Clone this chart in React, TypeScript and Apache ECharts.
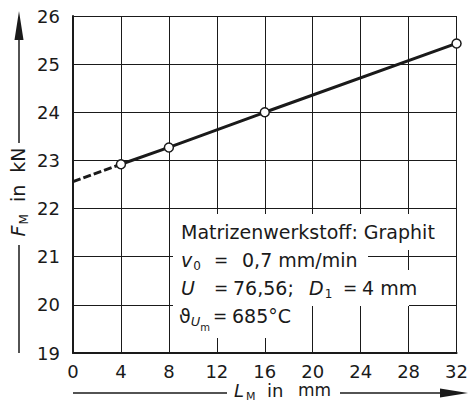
import React, { useEffect, useRef } from 'react';
import * as echarts from 'echarts';

// Measured points (L_M in mm, F_M in kN)
const lengths = [4, 8, 16, 32];
const forces = [22.92, 23.27, 24.0, 25.43];
// Dashed extrapolation towards L_M = 0
const extLengths = [0, 4];
const extForces = [22.56, 22.92];

const xMin = 0;
const xMax = 32;
const xStep = 4;
const yMin = 19;
const yMax = 26;
const yStep = 1;

const infoTitle = 'Matrizenwerkstoff: Graphit';
const infoV0 = '0,7 mm/min';
const infoU = '76,56;';
const infoD1 = '4 mm';
const infoTheta = '685°C';

const INK = '#1a1a1a';
const FONT = 'DejaVu Sans';

export default function App() {
  const ref = useRef<HTMLDivElement>(null);

  useEffect(() => {
    if (!ref.current) return;
    const chart = echarts.init(ref.current, undefined, { renderer: 'svg' });

    const richBase = {
      n: { fontSize: 19, fontFamily: FONT, color: INK },
      i: { fontSize: 19, fontFamily: FONT, fontStyle: 'italic', color: INK },
      s: { fontSize: 12, fontFamily: FONT, color: INK, padding: [11, 0, 0, 1] },
      su: { fontSize: 13, fontFamily: FONT, fontStyle: 'italic', color: INK, padding: [11, 0, 0, 0] },
      ss: { fontSize: 10, fontFamily: FONT, color: INK, padding: [23, 0, 0, 0] },
    };

    const txt = (x: number, y: number, text: string, extra: any = {}) => ({
      type: 'text',
      z: 10,
      x,
      y,
      style: {
        text,
        rich: richBase,
        fill: INK,
        fontSize: 19,
        fontFamily: FONT,
        align: 'left',
        verticalAlign: 'middle',
        ...extra,
      },
    });

    const plain = (x: number, y: number, text: string, size: number, italic = false) => ({
      type: 'text',
      z: 10,
      x,
      y,
      style: {
        text,
        fill: INK,
        fontSize: size,
        fontFamily: FONT,
        fontStyle: italic ? 'italic' : 'normal',
        align: 'left',
        verticalAlign: 'middle',
      },
    });

    const mask = (x: number, y: number, w: number, h: number) => ({
      type: 'rect',
      z: 5,
      shape: { x, y, width: w, height: h },
      style: { fill: '#ffffff' },
    });

    const data = lengths.map((l, k) => [l, forces[k]]);
    const ext = extLengths.map((l, k) => [l, extForces[k]]);

    chart.setOption({
      animation: false,
      backgroundColor: '#ffffff',
      grid: { left: 73, right: 7, top: 16, bottom: 58 },
      xAxis: {
        type: 'value',
        min: xMin,
        max: xMax,
        interval: xStep,
        axisLine: { show: true, lineStyle: { color: INK, width: 2 } },
        axisTick: { show: false },
        axisLabel: { color: INK, fontSize: 18, fontFamily: FONT, margin: 9 },
        splitLine: { show: true, lineStyle: { color: INK, width: 1 } },
      },
      yAxis: {
        type: 'value',
        min: yMin,
        max: yMax,
        interval: yStep,
        axisLine: { show: true, lineStyle: { color: INK, width: 2 } },
        axisTick: { show: false },
        axisLabel: { color: INK, fontSize: 18, fontFamily: FONT, margin: 13 },
        splitLine: { show: true, lineStyle: { color: INK, width: 1 } },
      },
      series: [
        {
          type: 'line',
          data: ext,
          symbol: 'none',
          lineStyle: { color: INK, width: 3, type: [8, 3] },
          z: 3,
        },
        {
          type: 'line',
          data,
          symbol: 'circle',
          symbolSize: 9,
          showAllSymbol: true,
          lineStyle: { color: INK, width: 3 },
          itemStyle: { color: '#ffffff', borderColor: INK, borderWidth: 1.5 },
          z: 4,
        },
      ],
      graphic: [
        // white masks behind annotation
        mask(173, 214, 268, 36),
        mask(173, 250, 195, 20),
        mask(173, 270, 236, 36),
        mask(173, 306, 125, 32),
        // annotation text
        txt(181, 232, infoTitle),
        txt(181, 260, '{i|v}{s|0}'),
        plain(214, 260, '=', 17),
        txt(242, 260, infoV0),
        txt(181, 288, '{i|U}'),
        plain(214, 288, '=', 17),
        txt(233, 288, infoU),
        txt(309, 288, '{i|D}{s|1}'),
        plain(343, 288, '=', 17),
        txt(362, 288, infoD1),
        txt(179, 316, '{n|ϑ}{su|U}{ss|m}'),
        plain(213, 316, '=', 17),
        txt(232, 316, infoTheta),
        // y axis title with arrow
        {
          type: 'line',
          z: 10,
          shape: { x1: 19, y1: 245, x2: 19, y2: 353 },
          style: { stroke: INK, lineWidth: 1.5 },
        },
        {
          type: 'line',
          z: 10,
          shape: { x1: 19, y1: 143, x2: 19, y2: 36 },
          style: { stroke: INK, lineWidth: 1.5 },
        },
        {
          type: 'polygon',
          z: 10,
          shape: { points: [[19, 11], [14.5, 40], [23.5, 40]] },
          style: { fill: INK },
        },
        {
          type: 'text',
          z: 10,
          x: 18,
          y: 192,
          rotation: Math.PI / 2,
          style: {
            text: '{i|F}{s|M}{n|  in  kN}',
            rich: richBase,
            fill: INK,
            fontSize: 19,
            fontFamily: FONT,
            align: 'center',
            verticalAlign: 'middle',
          },
        },
        // x axis title with arrow
        {
          type: 'line',
          z: 10,
          shape: { x1: 73, y1: 393, x2: 227, y2: 393 },
          style: { stroke: INK, lineWidth: 1.5 },
        },
        {
          type: 'line',
          z: 10,
          shape: { x1: 340, y1: 393, x2: 444, y2: 393 },
          style: { stroke: INK, lineWidth: 1.5 },
        },
        {
          type: 'polygon',
          z: 10,
          shape: { points: [[468, 393], [440, 388.5], [440, 397.5]] },
          style: { fill: INK },
        },
        plain(234, 390, 'L', 18, true),
        plain(246, 396, 'M', 11),
        plain(267, 390, 'in', 18),
        plain(298, 390, 'mm', 17),
      ],
    });

    return () => chart.dispose();
  }, []);

  return (
    <div
      ref={ref}
      style={{ position: 'fixed', left: 0, top: 0, width: 471, height: 411 }}
    />
  );
}
